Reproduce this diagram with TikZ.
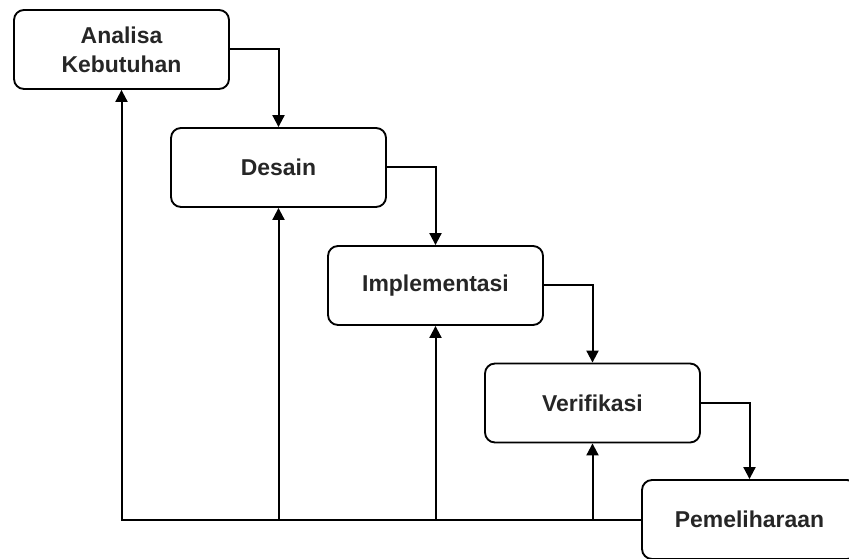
\documentclass[tikz,border=0pt]{standalone}
\usepackage{fontspec}
\setmainfont{Liberation Sans}
\usetikzlibrary{arrows.meta}
\begin{document}
\begin{tikzpicture}[x=0.75pt,y=-0.75pt,
  stage/.style={draw, line width=1.4pt, rounded corners=7.5pt, minimum width=161.25pt, minimum height=59.25pt, inner sep=0pt, align=center, font=\bfseries\fontsize{17.2}{22}\selectfont, text=black!85},
  arr/.style={draw, line width=1.5pt, -{Triangle[length=9pt,width=9pt]}}]
\useasboundingbox (0,0) rectangle (849,559);
\begin{scope}
\clip (0,0) rectangle (849,559);
\node[stage] (a) at (121.5,49.5) {Analisa\\Kebutuhan};
\node[stage] (b) at (278.5,167.5) {Desain};
\node[stage] (c) at (435.5,285.5) {Implementasi};
\node[stage] (d) at (592.5,403) {Verifikasi};
\node[stage] (e) at (749.5,519.5) {Pemeliharaan};
\end{scope}
\draw[arr] (a.east) -| (b.north);
\draw[arr] (b.east) -| (c.north);
\draw[arr] (c.east) -| (d.north);
\draw[arr] (d.east) -| (e.north);
\draw[arr] (e.west) -| (a.south);
\coordinate (pb) at (b.south |- e.west);
\coordinate (pc) at (c.south |- e.west);
\coordinate (pd) at (d.south |- e.west);
\draw[arr] (pb) -- (b.south);
\draw[arr] (pc) -- (c.south);
\draw[arr] (pd) -- (d.south);
\end{tikzpicture}
\end{document}
